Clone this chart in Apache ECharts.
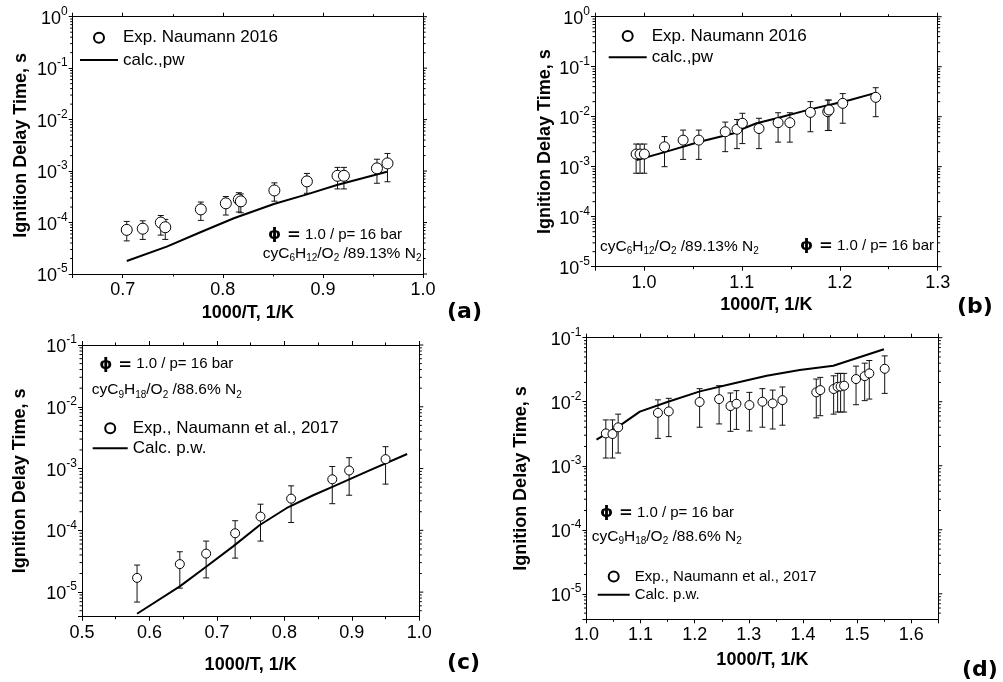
<!DOCTYPE html>
<html>
<head>
<meta charset="utf-8">
<script src="https://cdn.jsdelivr.net/npm/echarts@6/dist/echarts.min.js"></script>
<style>
  html, body { margin: 0; padding: 0; background: #fff; }
  #chart { width: 1003px; height: 682px; }
</style>
</head>
<body>
<div id="chart"></div>
<script>
// ---- data ----
// (a) cyC6H12, 16 bar
var aExpX  = [0.704, 0.720, 0.738, 0.7425, 0.778, 0.803, 0.816, 0.818, 0.8515, 0.884, 0.9146, 0.921, 0.954, 0.9645];
var aExpY  = [7.2e-5, 7.6e-5, 1.0e-4, 8.1e-5, 1.8e-4, 2.36e-4, 2.8e-4, 2.58e-4, 4.2e-4, 6.3e-4, 8.1e-4, 8.1e-4, 1.13e-3, 1.41e-3];
var aErrHi = [1.05e-4, 1.08e-4, 1.37e-4, 1.15e-4, 2.5e-4, 3.2e-4, 3.8e-4, 3.6e-4, 5.9e-4, 9.0e-4, 1.18e-3, 1.18e-3, 1.7e-3, 2.2e-3];
var aErrLo = [4.4e-5, 4.7e-5, 5.7e-5, 4.7e-5, 1.1e-4, 1.4e-4, 1.6e-4, 1.55e-4, 2.6e-4, 3.7e-4, 4.5e-4, 4.5e-4, 5.8e-4, 6.2e-4];
var aCalcX = [0.704, 0.744, 0.777, 0.811, 0.851, 0.884, 0.914, 0.964];
var aCalcY = [1.79e-5, 3.4e-5, 6.4e-5, 1.21e-4, 2.29e-4, 3.53e-4, 5.36e-4, 9.7e-4];

// (b) cyC6H12, 16 bar, low T
var bExpX  = [0.992, 0.996, 1.0004, 1.021, 1.040, 1.056, 1.083, 1.095, 1.1005, 1.1175, 1.137, 1.149, 1.170, 1.1877, 1.189, 1.203, 1.2367];
var bExpY  = [1.79e-3, 1.79e-3, 1.79e-3, 2.5e-3, 3.4e-3, 3.4e-3, 5.0e-3, 5.6e-3, 7.4e-3, 5.8e-3, 7.6e-3, 7.6e-3, 1.22e-2, 1.26e-2, 1.36e-2, 1.85e-2, 2.44e-2];
var bErrHi = [2.84e-3, 2.84e-3, 2.84e-3, 4.0e-3, 5.4e-3, 5.4e-3, 7.8e-3, 8.8e-3, 1.17e-2, 9.3e-3, 1.2e-2, 1.2e-2, 2.0e-2, 2.15e-2, 2.15e-2, 2.9e-2, 3.8e-2];
var bErrLo = [7.4e-4, 7.4e-4, 7.4e-4, 1.0e-3, 1.4e-3, 1.4e-3, 2.0e-3, 2.3e-3, 2.9e-3, 2.3e-3, 3.1e-3, 3.1e-3, 5.0e-3, 5.3e-3, 5.3e-3, 7.4e-3, 1.0e-2];
var bCalcX = [0.9926, 1.023, 1.057, 1.091, 1.1015, 1.115, 1.1356, 1.1696, 1.1934, 1.2105, 1.2367];
var bCalcY = [1.36e-3, 2.0e-3, 3.16e-3, 4.6e-3, 5.8e-3, 7.4e-3, 9.3e-3, 1.4e-2, 1.8e-2, 2.15e-2, 3.0e-2];

// (c) cyC9H18, 16 bar
var cExpX  = [0.5816, 0.645, 0.684, 0.727, 0.7646, 0.810, 0.871, 0.896, 0.950];
var cExpY  = [1.7e-5, 2.84e-5, 4.2e-5, 8.97e-5, 1.67e-4, 3.26e-4, 6.7e-4, 9.3e-4, 1.42e-3];
var cErrHi = [2.74e-5, 4.5e-5, 6.7e-5, 1.43e-4, 2.65e-4, 5.25e-4, 1.08e-3, 1.5e-3, 2.26e-3];
var cErrLo = [6.9e-6, 1.16e-5, 1.7e-5, 3.55e-5, 6.7e-5, 1.34e-4, 2.7e-4, 3.7e-4, 5.6e-4];
var cCalcX = [0.5816, 0.645, 0.6845, 0.724, 0.7636, 0.803, 0.8427, 0.872, 0.922, 0.982];
var cCalcY = [4.47e-6, 1.24e-5, 2.6e-5, 5.5e-5, 1.22e-4, 2.28e-4, 3.7e-4, 5.1e-4, 8.9e-4, 1.72e-3];

// (d) cyC9H18, 16 bar, low T
var dExpX  = [1.0357, 1.048, 1.0585, 1.132, 1.152, 1.209, 1.245, 1.266, 1.277, 1.301, 1.325, 1.344, 1.362, 1.4245, 1.432, 1.4566, 1.464, 1.4695, 1.476, 1.498, 1.514, 1.5225, 1.551];
var dExpY  = [3.2e-3, 3.13e-3, 3.98e-3, 6.7e-3, 7.06e-3, 9.9e-3, 1.1e-2, 8.56e-3, 9.3e-3, 8.87e-3, 1.0e-2, 9.4e-3, 1.06e-2, 1.4e-2, 1.52e-2, 1.58e-2, 1.71e-2, 1.73e-2, 1.78e-2, 2.26e-2, 2.51e-2, 2.77e-2, 3.27e-2];
var dErrHi = [5.2e-3, 5.2e-3, 6.4e-3, 1.07e-2, 1.13e-2, 1.6e-2, 1.78e-2, 1.37e-2, 1.49e-2, 1.4e-2, 1.6e-2, 1.52e-2, 1.7e-2, 2.26e-2, 2.4e-2, 2.54e-2, 2.77e-2, 2.77e-2, 2.77e-2, 3.6e-2, 4.0e-2, 4.4e-2, 5.2e-2];
var dErrLo = [1.32e-3, 1.32e-3, 1.58e-3, 2.68e-3, 2.85e-3, 4.0e-3, 4.5e-3, 3.45e-3, 3.7e-3, 3.5e-3, 4.0e-3, 3.75e-3, 4.3e-3, 5.6e-3, 6.05e-3, 6.4e-3, 6.9e-3, 6.9e-3, 6.9e-3, 8.98e-3, 1.04e-2, 1.1e-2, 1.35e-2];
var dCalcX = [1.0185, 1.0555, 1.0986, 1.148, 1.2095, 1.271, 1.333, 1.394, 1.456, 1.5496];
var dCalcY = [2.55e-3, 3.9e-3, 7.0e-3, 9.8e-3, 1.45e-2, 1.93e-2, 2.55e-2, 3.12e-2, 3.65e-2, 6.6e-2];

var FONT = '"Liberation Sans", Arial, sans-serif';

var panels = [
  { grid: {left: 72.7, top: 16.7, width: 350.3, height: 257.3},
    xMin: 0.65, xMax: 1.0, splitNumber: 4, yMin: 1e-5, yMax: 1,
    expX: aExpX, expY: aExpY, hi: aErrHi, lo: aErrLo, calcX: aCalcX, calcY: aCalcY,
    expName: 'Exp. Naumann 2016', calcName: 'calc.,pw', sym: 11,
    xGap: 30, yGap: 43,
    legend: {left: 79, top: 27.7, itemWidth: 38, itemGap: 2.3, fontSize: 17} },
  { grid: {left: 595, top: 16.7, width: 342.7, height: 250},
    xMin: 0.95, xMax: 1.3, splitNumber: 4, yMin: 1e-5, yMax: 1,
    expX: bExpX, expY: bExpY, hi: bErrHi, lo: bErrLo, calcX: bCalcX, calcY: bCalcY,
    expName: 'Exp. Naumann 2016', calcName: 'calc.,pw', sym: 10,
    xGap: 29, yGap: 41,
    legend: {left: 607.7, top: 26, itemWidth: 38, itemGap: 1.3, fontSize: 17} },
  { grid: {left: 82, top: 345, width: 337.3, height: 271.7},
    xMin: 0.5, xMax: 1.0, interval: 0.1, yMin: 4e-6, yMax: 0.1,
    expX: cExpX, expY: cExpY, hi: cErrHi, lo: cErrLo, calcX: cCalcX, calcY: cCalcY,
    expName: 'Exp., Naumann et al., 2017', calcName: 'Calc. p.w.', sym: 9,
    xGap: 39, yGap: 53,
    legend: {left: 91.7, top: 418.3, itemWidth: 35, itemGap: 0, fontSize: 17} },
  { grid: {left: 586.5, top: 337.7, width: 351.8, height: 281.6},
    xMin: 1.0, xMax: 1.65, interval: 0.1, yMin: 4e-6, yMax: 0.1,
    expX: dExpX, expY: dExpY, hi: dErrHi, lo: dErrLo, calcX: dCalcX, calcY: dCalcY,
    expName: 'Exp., Naumann et al., 2017', calcName: 'Calc. p.w.', sym: 9,
    xGap: 32, yGap: 56,
    legend: {left: 596.7, top: 567.5, itemWidth: 32, itemGap: 0.3, fontSize: 15} }
];

function xFmt(v) {
  return Math.abs(v * 10 - Math.round(v * 10)) < 1e-6 ? v.toFixed(1) : '';
}
function yFmt(v) {
  var e = Math.log10(v), r = Math.round(e);
  if (Math.abs(e - r) > 1e-6) return '';
  return '{b|10}{s|' + r + '}';
}
var yRich = {
  b: {fontSize: 18, fontFamily: FONT, color: '#000', lineHeight: 22, verticalAlign: 'bottom'},
  s: {fontSize: 12, fontFamily: FONT, color: '#000', lineHeight: 12, verticalAlign: 'top'}
};

var grids = [], xAxes = [], yAxes = [], series = [], legends = [];

panels.forEach(function (p, i) {
  grids.push(p.grid);
  var xBase = {
    gridIndex: i, type: 'value', min: p.xMin, max: p.xMax,
    axisLine: {onZero: false, lineStyle: {color: '#000', width: 1}},
    axisTick: {inside: false, length: 4, lineStyle: {color: '#000'}},
    minorTick: {show: true, splitNumber: 2, length: 2.5, lineStyle: {color: '#000'}},
    splitLine: {show: false}
  };
  if (p.interval) xBase.interval = p.interval; else xBase.splitNumber = p.splitNumber;
  xAxes.push(Object.assign({}, xBase, {
    position: 'bottom',
    axisLabel: {fontSize: 18, color: '#000', fontFamily: FONT, margin: 7, formatter: xFmt},
    name: '1000/T, 1/K', nameLocation: 'middle', nameGap: p.xGap,
    nameTextStyle: {fontSize: 18, fontWeight: 'bold', fontFamily: FONT, color: '#000'}
  }));
  var yBase = {
    gridIndex: i, type: 'log', logBase: 10, min: p.yMin, max: p.yMax,
    axisLine: {show: true, onZero: false, lineStyle: {color: '#000', width: 1}},
    axisTick: {show: true, inside: false, length: 4, lineStyle: {color: '#000'}},
    splitLine: {show: false}
  };
  yAxes.push(Object.assign({}, yBase, {
    position: 'left',
    axisLabel: {formatter: yFmt, rich: yRich, margin: 5},
    name: 'Ignition Delay Time, s', nameLocation: 'middle', nameRotate: 90, nameGap: p.yGap,
    nameTextStyle: {fontSize: 18, fontWeight: 'bold', fontFamily: FONT, color: '#000'}
  }));

  // error bars
  series.push({
    type: 'custom', xAxisIndex: i, yAxisIndex: i, z: 2, silent: true,
    data: p.expX.map(function (x, k) { return [x, p.lo[k], p.hi[k]]; }),
    encode: {x: 0, y: [1, 2]},
    renderItem: function (params, api) {
      var top = api.coord([api.value(0), api.value(2)]);
      var bot = api.coord([api.value(0), api.value(1)]);
      var w = 3, st = {stroke: '#111', lineWidth: 1};
      return {type: 'group', children: [
        {type: 'line', shape: {x1: top[0], y1: top[1], x2: bot[0], y2: bot[1]}, style: st},
        {type: 'line', shape: {x1: top[0] - w, y1: top[1], x2: top[0] + w, y2: top[1]}, style: st},
        {type: 'line', shape: {x1: bot[0] - w, y1: bot[1], x2: bot[0] + w, y2: bot[1]}, style: st}
      ]};
    }
  });
  series.push({
    name: p.calcName, type: 'line', xAxisIndex: i, yAxisIndex: i, z: 3,
    symbol: 'none', lineStyle: {color: '#000', width: 2}, itemStyle: {color: '#000'},
    data: p.calcX.map(function (x, k) { return [x, p.calcY[k]]; })
  });
  series.push({
    name: p.expName, type: 'scatter', xAxisIndex: i, yAxisIndex: i, z: 4,
    symbol: 'circle', symbolSize: p.sym,
    itemStyle: {color: '#fff', borderColor: '#000', borderWidth: 1, opacity: 1},
    data: p.expX.map(function (x, k) { return [x, p.expY[k]]; })
  });

  // log minor ticks (2..9 per decade) on left and right frame, decade ticks on right
  var minor = [];
  for (var e = -6; e <= 0; e++) {
    for (var m = 2; m <= 9; m++) {
      var v = m * Math.pow(10, e);
      if (v > p.yMin * 1.0001 && v < p.yMax * 0.9999) minor.push([p.xMin, v, 0]);
    }
  }
  for (var e2 = -6; e2 <= 0; e2++) {
    var dv = Math.pow(10, e2);
    if (dv >= p.yMin * 0.9999 && dv <= p.yMax * 1.0001) minor.push([p.xMin, dv, 1]);
  }
  (function (xMax) {
    series.push({
      type: 'custom', xAxisIndex: i, yAxisIndex: i, silent: true, clip: false, z: 1,
      data: minor,
      renderItem: function (params, api) {
        var len = api.value(2) ? 4 : 2.5;
        var l = api.coord([api.value(0), api.value(1)]);
        var r = api.coord([xMax, api.value(1)]);
        var st = {stroke: '#000', lineWidth: 1};
        var kids = [{type: 'line', shape: {x1: r[0], y1: r[1], x2: r[0] + len, y2: r[1]}, style: st}];
        if (!api.value(2)) kids.push({type: 'line', shape: {x1: l[0] - len, y1: l[1], x2: l[0], y2: l[1]}, style: st});
        return {type: 'group', children: kids};
      }
    });
  })(p.xMax);

  legends.push({
    left: p.legend.left, top: p.legend.top, orient: 'vertical', padding: 0,
    itemWidth: p.legend.itemWidth, itemHeight: 10, itemGap: p.legend.itemGap,
    selectedMode: false,
    data: [p.expName, {name: p.calcName, itemStyle: {opacity: 0}}],
    textStyle: {fontSize: p.legend.fontSize, fontFamily: FONT, color: '#000', lineHeight: p.legend.fontSize + 3}
  });
});

// mirror axes (top / right frame)
panels.forEach(function (p, i) {
  var xm = {
    gridIndex: i, type: 'value', min: p.xMin, max: p.xMax, position: 'top',
    axisLine: {onZero: false, lineStyle: {color: '#000', width: 1}},
    axisTick: {inside: false, length: 4, lineStyle: {color: '#000'}},
    minorTick: {show: true, splitNumber: 2, length: 2.5, lineStyle: {color: '#000'}},
    axisLabel: {show: false}, splitLine: {show: false}
  };
  if (p.interval) xm.interval = p.interval; else xm.splitNumber = p.splitNumber;
  xAxes.push(xm);
  yAxes.push({
    gridIndex: i, type: 'log', logBase: 10, min: p.yMin, max: p.yMax, position: 'right',
    axisLine: {show: true, onZero: false, lineStyle: {color: '#000', width: 1}},
    axisTick: {show: false}, axisLabel: {show: false}, splitLine: {show: false}
  });
});

var ann = {
  phi: {fontSize: 16.5, fontWeight: 'bold', fontFamily: '"DejaVu Sans", sans-serif', color: '#000', lineHeight: 20},
  p: {fontSize: 15, fontFamily: FONT, color: '#000', lineHeight: 20},
  t: {fontSize: 15.5, fontFamily: FONT, color: '#000', lineHeight: 20},
  g: {fontSize: 15.5, fontFamily: FONT, color: '#555', lineHeight: 20},
  sub: {fontSize: 10, fontFamily: FONT, color: '#000', lineHeight: 10, verticalAlign: 'bottom'},
  gsub: {fontSize: 10, fontFamily: FONT, color: '#555', lineHeight: 10, verticalAlign: 'bottom'}
};
var phiText = '{phi|ϕ =}{p| 1.0 / p= 16 bar}';
var c6Text = '{t|cyC}{sub|6}{t|H}{sub|12}{g|/O}{gsub|2}{g| /89.13% N}{gsub|2}';
var c9Text = '{t|cyC}{sub|9}{t|H}{sub|18}{g|/O}{gsub|2}{g| /88.6% N}{gsub|2}';

function note(x, y, text) {
  return {type: 'text', x: x, y: y, z: 10,
    style: {text: text, rich: ann, verticalAlign: 'middle', align: 'left'}};
}
function tag(x, y, text) {
  return {type: 'text', x: x, y: y, z: 10,
    style: {text: text, verticalAlign: 'middle', align: 'left',
      font: 'bold 22px "DejaVu Sans", sans-serif', fill: '#000'}};
}

var chart = echarts.init(document.getElementById('chart'));
chart.setOption({
  animation: false,
  backgroundColor: '#fff',
  grid: grids,
  xAxis: xAxes,
  yAxis: yAxes,
  legend: legends,
  series: series,
  graphic: [
    note(268, 235, phiText), note(262.7, 253.5, c6Text),
    note(600, 246.5, c6Text), note(800, 246, phiText),
    note(99.3, 364.3, phiText), note(91.7, 390, c9Text),
    note(600, 512.7, phiText), note(591.7, 536.7, c9Text),
    tag(447, 312, '(a)'), tag(957, 307, '(b)'), tag(447, 663, '(c)'), tag(962, 670, '(d)')
  ]
});
</script>
</body>
</html>
